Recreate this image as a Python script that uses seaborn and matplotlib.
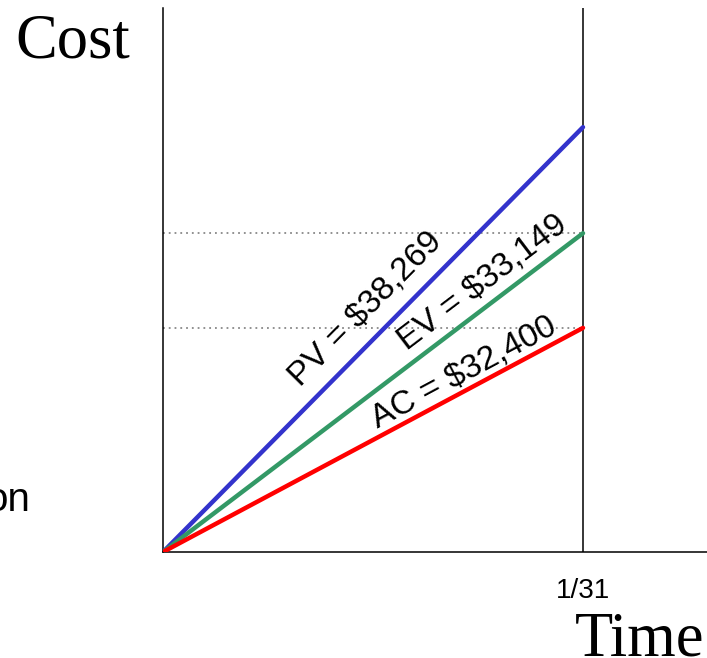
import numpy as np
import pandas as pd
import matplotlib
matplotlib.use('Agg')
import matplotlib.pyplot as plt
import seaborn as sns

# ------------------------------------------------------------
# DATA (schematic cost units, day of month)
# ------------------------------------------------------------
metrics = ['PV', 'EV', 'AC']
start_day = [0, 0, 0]
end_day = [31, 31, 31]
start_cost = [0.0, 0.0, 0.0]
end_cost = [7.81, 5.86, 4.12]
labels = ['PV = $38,269', 'EV = $33,149', 'AC = $32,400']
colors = ['#3333CC', '#339966', '#FF0000']
status_day = 31
status_tick = '1/31'

rows = []
for m, d0, d1, c0, c1 in zip(metrics, start_day, end_day, start_cost, end_cost):
    rows.append([m, d0, c0])
    rows.append([m, d1, c1])
df = pd.DataFrame(rows, columns=['metric', 'day', 'cost'])

# ------------------------------------------------------------
# PLOT
# ------------------------------------------------------------
sns.set_style('white')
plt.rcParams['font.family'] = ['Liberation Sans', 'DejaVu Sans']
plt.rcParams['text.color'] = 'black'
plt.rcParams['xtick.color'] = 'black'

W, H = 707, 658
fig = plt.figure(figsize=(W / 100, H / 100), dpi=100)
ax = fig.add_axes([163 / W, 106 / H, (W - 163) / W, 544 / H])

ax.set_xlim(0, (W - 163) / ((583 - 163) / status_day))
ax.set_ylim(0, 10)

# dotted reference lines at EV and AC levels
for v in end_cost[1:]:
    ax.plot([0, status_day], [v, v], color='#888888', lw=1.3,
            linestyle=(0, (1, 2.2)), zorder=1)

ax.axvline(status_day, color='black', lw=1.1, zorder=2)

sns.lineplot(data=df, x='day', y='cost', hue='metric',
             palette=dict(zip(metrics, colors)), hue_order=metrics,
             linewidth=3.2, legend=False, ax=ax, zorder=3)

# rotated labels along each line
label_pos = [(15.0, 4.45), (23.6, 4.95), (22.2, 3.28)]
for (lx, ly), c1, lab in zip(label_pos, end_cost, labels):
    p0 = ax.transData.transform((0, 0))
    p1 = ax.transData.transform((status_day, c1))
    ang = np.degrees(np.arctan2(p1[1] - p0[1], p1[0] - p0[0]))
    ax.text(lx, ly, lab, rotation=ang, rotation_mode='anchor',
            ha='center', va='center', fontsize=24, color='black')

for s in ['top', 'right']:
    ax.spines[s].set_visible(False)
for s in ['left', 'bottom']:
    ax.spines[s].set_color('black')
    ax.spines[s].set_linewidth(1.1)

ax.set_yticks([])
ax.set_xticks([status_day], [status_tick])
ax.tick_params(axis='x', length=0, pad=19, labelsize=20, labelcolor='black')
ax.set_xlabel('')
ax.set_ylabel('')

fig.text(15 / W, 1 - 57 / H, 'Cost', family=['Liberation Serif', 'DejaVu Serif'],
         fontsize=45, ha='left', va='baseline', color='black')
fig.text(575 / W, 1 - 655 / H, 'Time', family=['Liberation Serif', 'DejaVu Serif'],
         fontsize=45, ha='left', va='baseline', color='black')
fig.text(30 / W, 1 - 511 / H, 'on', fontsize=29, ha='right', va='baseline',
         color='black')

fig.savefig('out.png', dpi=100)
